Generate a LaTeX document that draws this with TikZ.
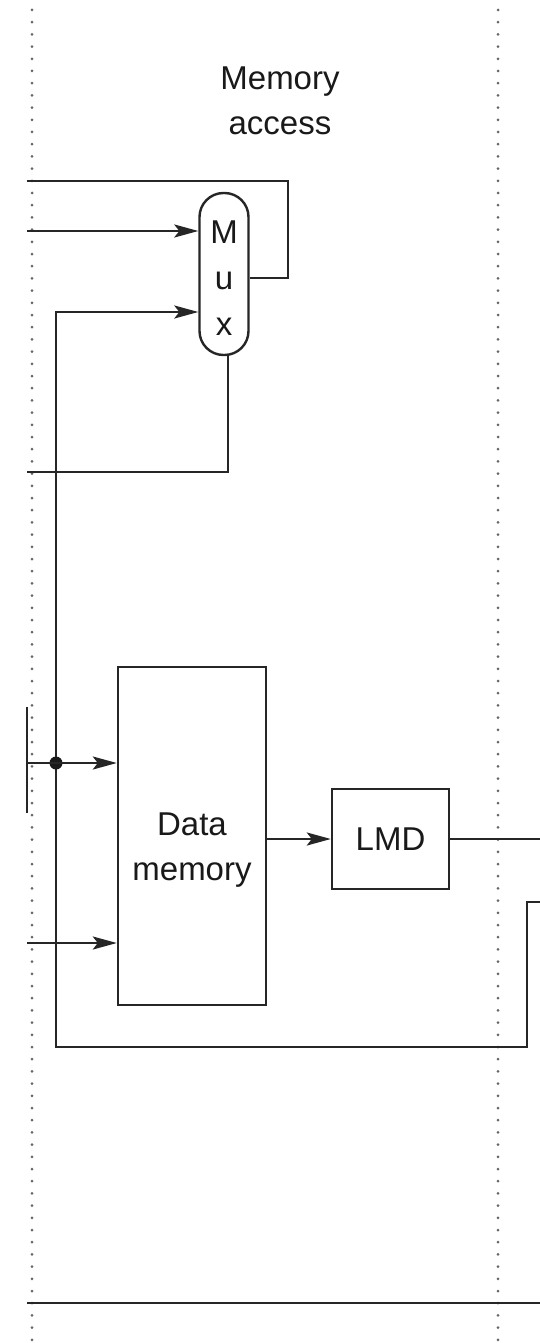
\documentclass[tikz,border=0pt]{standalone}
\usepackage{fontspec}
\setmainfont{Liberation Sans}
\usetikzlibrary{arrows.meta}
\begin{document}
\begin{tikzpicture}[x=1pt,y=-1pt,
  wire/.style={draw=black!85, line width=2.4pt},
  arr/.style={wire,-{Stealth[length=24pt,width=13pt,inset=5pt]}},
  blockbox/.style={draw=black!85, line width=2.4pt, inner sep=0pt},
  lbl/.style={inner sep=0pt, align=center, text=black!90, font=\fontsize{33}{45}\selectfont},
  divider/.style={draw=black!60, line width=3pt, dash pattern=on 0pt off 12.2pt, line cap=round}]
\useasboundingbox[fill=white] (0,0) rectangle (540,1343);
% stage dividers
\coordinate (dlt) at (32,10);
\coordinate (dlb) at (32,1343);
\coordinate (drt) at (498,10);
\coordinate (drb) at (498,1343);
\draw[divider] (dlt) -- (dlb);
\draw[divider] (drt) -- (drb);
% title
\node[lbl] (title) at (280,101) {Memory\\access};
% blocks
\node[blockbox, minimum width=49pt, minimum height=162pt, rounded corners=24pt] (mux) at (224,274) {};
\node[lbl, font=\fontsize{33}{46}\selectfont] (muxtext) at (224,278) {M\\u\\x};
\node[blockbox, minimum width=148pt, minimum height=338pt] (dm) at (192,836) {};
\node[lbl] (dmtext) at (192,850) {Data\\memory};
\node[blockbox, lbl, minimum width=117pt, minimum height=100pt] (lmd) at (390.5,839) {LMD};
% free ends
\coordinate (topin) at (27,181);
\coordinate (topc) at (288,181);
\coordinate (in1) at (27,231);
\coordinate (out3) at (27,472);
\coordinate (in4) at (27,763);
\coordinate (in5) at (27,943);
\coordinate (regt) at (27,707);
\coordinate (regb) at (27,813);
\coordinate (fbin) at (540,902);
\coordinate (fbturn) at (527,1047);
\coordinate (fbcol) at (56,1047);
\coordinate (lmdout) at (540,839);
\coordinate (botl) at (27,1303);
\coordinate (botr) at (540,1303);
% connectors
\draw[wire] (topin) -- (topc) |- ([yshift=-4pt]mux.east);
\draw[arr] (in1) -- (in1 -| mux.west);
\draw[wire] ([xshift=4pt]mux.south) |- (out3);
\draw[arr] (fbin) -| (fbturn) -- (fbcol) |- (mux.west |- 0,312);
\node[circle, fill=black!90, inner sep=0pt, minimum size=13pt] (jd) at (56,763) {};
\draw[arr] (in4) -- (in4 -| dm.west);
\draw[arr] (in5) -- (in5 -| dm.west);
\draw[wire] (regt) -- (regb);
\draw[arr] (dm.east |- lmd.west) -- (lmd.west);
\draw[wire] (lmd.east) -- (lmdout);
\draw[wire] (botl) -- (botr);
\end{tikzpicture}
\end{document}
